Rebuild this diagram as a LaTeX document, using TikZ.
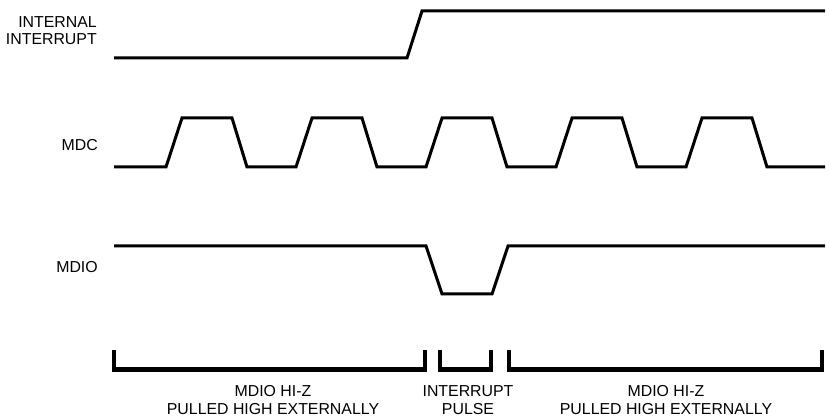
\documentclass[tikz,border=0pt]{standalone}
\usepackage{fontspec}
\setmainfont{Liberation Sans}
\usepackage{tikz}

\begin{document}
\begin{tikzpicture}[
  x=0.75pt, y=-0.75pt,
  wave/.style={line width=2.25pt, line join=miter},
  bracket/.style={line width=3.4pt, line join=miter},
  lbl/.style={font=\fontsize{11.9}{13.4}\selectfont, inner sep=0pt}
]
\useasboundingbox (0,0) rectangle (829,420);
% signal names
\node[lbl, align=right, anchor=base east] (intname) at (97,45) {INTERNAL\\INTERRUPT};
\node[lbl, anchor=base east] (mdcname) at (98,151) {MDC};
\node[lbl, anchor=base east] (mdioname) at (98,273) {MDIO};
% waveforms
\draw[wave] (114,58) -- (407,58) -- (422,11) -- (825,11);
\draw[wave] (114,167) foreach \k in {0,...,4} {
  -- ({166+130*\k},167) -- ({182+130*\k},118) -- ({232+130*\k},118) -- ({247+130*\k},167)
} -- (825,167);
\draw[wave] (114,246) -- (426,246) -- (442,294) -- (492,294) -- (508,246) -- (825,246);
% phases
\draw[bracket] (114,350) -- (114,369.5) -- (425,369.5) -- (425,350);
\draw[bracket] (440,350) -- (440,369.5) -- (491,369.5) -- (491,350);
\draw[bracket] (509,350) -- (509,369.5) -- (822,369.5) -- (822,350);
\node[lbl, align=center, anchor=base] (hizleft) at (273,414.5) {MDIO HI-Z\\PULLED HIGH EXTERNALLY};
\node[lbl, align=center, anchor=base] (pulse) at (468,414.5) {INTERRUPT\\PULSE};
\node[lbl, align=center, anchor=base] (hizright) at (666,414.5) {MDIO HI-Z\\PULLED HIGH EXTERNALLY};
\end{tikzpicture}
\end{document}
